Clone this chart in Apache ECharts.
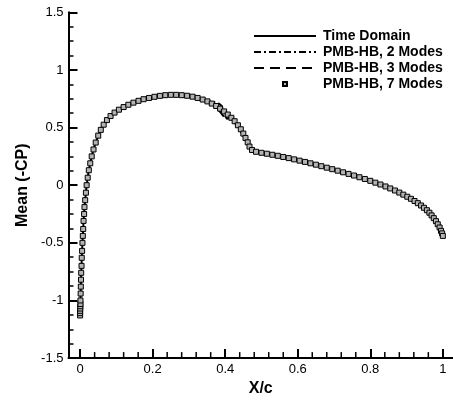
<!DOCTYPE html>
<html>
<head>
<meta charset="utf-8">
<script src="https://cdn.jsdelivr.net/npm/echarts@6/dist/echarts.min.js"></script>
<style>html,body{margin:0;padding:0;background:#fff;}#chart{width:453px;height:402px;}</style>
</head>
<body>
<div id="chart"></div>
<script>
// Mean(-Cp) along chord: Time Domain line and PMB-HB 7 modes markers
var xMean = [0,0,0,0.0005,0.0005,0.001,0.001,0.0015,0.002,0.0025,0.003,0.004,0.0045,0.0055,0.0065,0.0075,0.0085,0.0095,0.011,0.012,0.014,0.016,0.018,
  0.021,0.024,0.028,0.032,0.037,0.043,0.05,0.057,0.065,0.074,0.084,0.095,0.107,0.12,0.133,0.147,0.161,0.175,0.19,0.205,0.22,0.235,0.25,0.265,0.28,0.295,0.31,0.324,0.338,0.351,0.363,0.375,0.386,0.397,0.407,0.417,0.426,0.435,0.443,0.45,0.456,0.462,0.467,0.474,0.485,
  0.5,0.515,0.53,0.545,0.56,0.575,0.59,0.605,0.62,0.635,0.65,0.665,0.68,0.695,0.71,0.725,0.74,0.755,0.77,0.785,0.8,0.814,0.828,0.842,0.855,0.868,0.88,0.891,0.902,0.912,0.922,0.931,0.94,0.948,0.956,0.963,0.969,0.975,0.981,0.986,0.991,0.995,0.998,1.0];
var yMean = [-1.13,-1.11,-1.09,-1.07,-1.05,-1.03,-1.0,-0.94,-0.88,-0.82,-0.76,-0.70,-0.63,-0.57,-0.5,-0.44,-0.38,-0.31,-0.25,-0.19,-0.13,-0.065,0.0,
  0.065,0.13,0.19,0.25,0.31,0.37,0.43,0.48,0.525,0.565,0.60,0.63,0.655,0.678,0.698,0.716,0.732,0.746,0.757,0.767,0.775,0.781,0.784,0.784,0.781,0.776,0.768,0.757,0.743,0.727,0.708,0.687,0.664,0.64,0.613,0.585,0.555,0.52,0.485,0.448,0.41,0.372,0.335,0.305,0.29,
  0.281,0.273,0.264,0.255,0.245,0.235,0.224,0.213,0.202,0.19,0.178,0.165,0.152,0.139,0.126,0.112,0.098,0.084,0.069,0.054,0.038,0.022,0.006,-0.011,-0.028,-0.046,-0.064,-0.082,-0.1,-0.118,-0.137,-0.156,-0.176,-0.196,-0.217,-0.239,-0.262,-0.286,-0.312,-0.339,-0.367,-0.396,-0.418,-0.44];

// PMB-HB 2 modes (shock region, elsewhere coincident with time domain)
var x2 = [0.30,0.33,0.345,0.36,0.37,0.38,0.39,0.395,0.40,0.405,0.41,0.42,0.425,0.43,0.44,0.45,0.46,0.47,0.48,0.50];
var y2 = [0.770,0.75,0.738,0.725,0.72,0.715,0.69,0.645,0.60,0.575,0.565,0.60,0.575,0.53,0.50,0.45,0.39,0.33,0.295,0.281];
// PMB-HB 3 modes
var x3 = [0.30,0.33,0.345,0.36,0.375,0.385,0.395,0.405,0.415,0.425,0.435,0.445,0.455,0.465,0.475,0.49,0.50];
var y3 = [0.770,0.75,0.736,0.715,0.68,0.64,0.60,0.575,0.58,0.55,0.50,0.455,0.40,0.35,0.305,0.285,0.281];

var seriesNames = ['Time Domain','PMB-HB, 2 Modes','PMB-HB, 3 Modes','PMB-HB, 7 Modes'];
var xMajorTicks = [0,0.2,0.4,0.6,0.8,1];
var xMinorTicks = [0.04,0.08,0.12,0.16,0.24,0.28,0.32,0.36,0.44,0.48,0.52,0.56,0.64,0.68,0.72,0.76,0.84,0.88,0.92,0.96];
var yTickLabels = ['-1.5','-1','-0.5','0','0.5','1','1.5'];
var yMin = -1.5, yMax = 1.5;

function zip(a,b){var r=[];for(var i=0;i<a.length;i++)r.push([a[i],b[i]]);return r;}

var FONT = 'Liberation Sans, Arial, sans-serif';
var chart = echarts.init(document.getElementById('chart'));
chart.setOption({
  animation:false,
  backgroundColor:'#fff',
  grid:{left:68.5, right:0, top:12.3, bottom:39.3, containLabel:false},
  legend:{
    orient:'vertical', left:248, top:24, itemWidth:62, itemHeight:5, itemGap:2,
    data:[
      {name:seriesNames[0], itemStyle:{opacity:0}},
      {name:seriesNames[1], itemStyle:{opacity:0}},
      {name:seriesNames[2], itemStyle:{opacity:0}},
      {name:seriesNames[3]}
    ],
    textStyle:{fontFamily:FONT, fontWeight:'bold', fontSize:14, color:'#000', padding:[0,0,0,2]}
  },
  xAxis:{
    type:'value', min:-0.032, max:1.028, splitLine:{show:false},
    name:'X/c', nameLocation:'middle', nameGap:17,
    nameTextStyle:{fontFamily:FONT, fontWeight:'bold', fontSize:16, color:'#000'},
    axisLine:{show:true, onZero:false, lineStyle:{color:'#000', width:2}},
    axisTick:{show:true, inside:true, length:9, customValues:xMajorTicks, lineStyle:{color:'#000', width:2}},
    axisLabel:{show:true, margin:5, customValues:xMajorTicks, fontFamily:FONT, fontSize:13, color:'#000'}
  },
  yAxis:{
    type:'value', min:yMin, max:yMax, interval:0.5,
    name:'Mean (-CP)', nameLocation:'middle', nameGap:38, nameRotate:90,
    nameTextStyle:{fontFamily:FONT, fontWeight:'bold', fontSize:16, color:'#000'},
    axisLine:{show:true, onZero:false, lineStyle:{color:'#000', width:2}},
    axisTick:{show:true, inside:true, length:9, lineStyle:{color:'#000', width:2}},
    minorTick:{show:true, splitNumber:4, length:5, lineStyle:{color:'#000', width:1.5}},
    splitLine:{show:false}, minorSplitLine:{show:false},
    axisLabel:{margin:5, fontFamily:FONT, fontSize:13, color:'#000',
      formatter:function(v){var i=Math.round((v-yMin)/0.5);return yTickLabels[i];}}
  },
  series:[
    {name:seriesNames[0], type:'line', data:zip(xMean,yMean), symbol:'none', z:2,
      itemStyle:{color:'#000'}, lineStyle:{color:'#000', width:2, type:'solid'}},
    {name:seriesNames[1], type:'line', data:zip(x2,y2), symbol:'none', z:3,
      itemStyle:{color:'#000'}, lineStyle:{color:'#000', width:2, type:[7,3,2,3]}},
    {name:seriesNames[2], type:'line', data:zip(x3,y3), symbol:'none', z:3,
      itemStyle:{color:'#000'}, lineStyle:{color:'#000', width:2, type:[10,6]}},
    {name:seriesNames[3], type:'line', data:zip(xMean,yMean), symbol:'rect', symbolSize:5, z:4,
      showSymbol:true, showAllSymbol:true,
      lineStyle:{width:0, opacity:0},
      itemStyle:{color:'#b4b4b4', borderColor:'#000', borderWidth:1, opacity:1}},
    // minor ticks of the X axis (inside, pointing up)
    {name:'xMinor', type:'scatter', silent:true, clip:false, z:5,
      data:xMinorTicks.map(function(v){return [v, yMin];}),
      symbol:'rect', symbolSize:[1.5,6], symbolOffset:[0,-3],
      itemStyle:{color:'#000', opacity:1}}
  ]
});
</script>
</body>
</html>
